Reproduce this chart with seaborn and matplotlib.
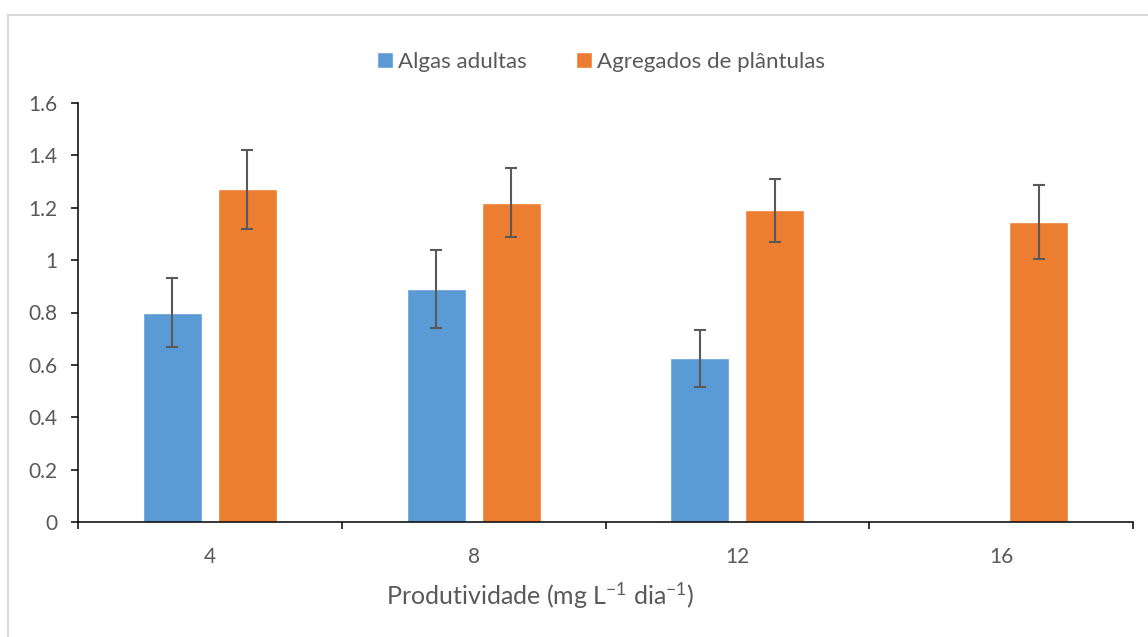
import pandas as pd
import matplotlib
matplotlib.use('Agg')
import matplotlib.pyplot as plt
from matplotlib.lines import Line2D
import seaborn as sns

# Dados
categorias = ['4', '8', '12', '16']
algas = [0.80, 0.89, 0.625]          # sem valor em 16
algas_erro = [0.13, 0.15, 0.11]
agregados = [1.27, 1.22, 1.19, 1.145]
agregados_erro = [0.15, 0.13, 0.12, 0.14]
series = ['Algas adultas', 'Agregados de plântulas']
cores = ['#5B9BD5', '#ED7D31']

df = pd.DataFrame({
    'Produtividade': categorias[:len(algas)] + categorias,
    'Valor': algas + agregados,
    'Serie': [series[0]] * len(algas) + [series[1]] * len(agregados),
})

sns.set_theme(style='white')
plt.rcParams['font.family'] = ['Lato', 'DejaVu Sans']
plt.rcParams['mathtext.fontset'] = 'custom'
plt.rcParams['mathtext.rm'] = 'Lato'
plt.rcParams['mathtext.it'] = 'Lato'
cinza = '#595959'

fig = plt.figure(figsize=(11.48, 6.37), dpi=100)
ax = fig.add_axes([78 / 1148, 1 - 522 / 637, 1055 / 1148, 419 / 637])

sns.barplot(data=df, x='Produtividade', y='Valor', hue='Serie', order=categorias,
            hue_order=series, palette=cores, width=0.568, gap=0.213,
            errorbar=None, saturation=1, ax=ax)

# barras de erro (ordem dos patches: algas, depois agregados)
barras = [p for p in ax.patches if p.get_height() > 0]
erros = algas_erro + agregados_erro
for p, e in zip(barras, erros):
    ax.errorbar(p.get_x() + p.get_width() / 2, p.get_height(), yerr=e,
                color=cinza, elinewidth=1.5, capsize=4.5, capthick=1.5, zorder=5)

ax.set_xlim(-0.5, 3.5)
ax.set_ylim(0, 1.6)
ax.set_yticks([0, 0.2, 0.4, 0.6, 0.8, 1.0, 1.2, 1.4, 1.6])
ax.set_yticklabels(['0', '0.2', '0.4', '0.6', '0.8', '1', '1.2', '1.4', '1.6'])
ax.set_xticks(range(len(categorias)))
ax.set_xticklabels(categorias)
ax.set_xticks([-0.5, 0.5, 1.5, 2.5, 3.5], minor=True)
ax.tick_params(axis='x', which='major', length=0, pad=18, labelsize=15, labelcolor=cinza)
ax.tick_params(axis='x', which='minor', length=5, width=1.1, color='black', direction='out', bottom=True)
ax.tick_params(axis='y', length=5, width=1.1, color='black', direction='out', left=True,
               pad=10, labelsize=15, labelcolor=cinza)

for s in ['top', 'right']:
    ax.spines[s].set_visible(False)
for s in ['left', 'bottom']:
    ax.spines[s].set_color('black')
    ax.spines[s].set_linewidth(1.1)

ax.set_ylabel('')
ax.set_xlabel('Produtividade (mg L$^{-1}$ dia$^{-1}$)', fontsize=18, color=cinza)
ax.xaxis.set_label_coords((540 - 78) / 1055, -0.14)
ax.xaxis.label.set_va('top')

sns.move_legend(ax, 'center', bbox_to_anchor=(0.496, 1.098), ncol=2, frameon=False,
                title=None, fontsize=16, handlelength=0.7, handleheight=0.7,
                handletextpad=0.25, columnspacing=2.2)
for t in ax.get_legend().get_texts():
    t.set_color(cinza)

# moldura clara do gráfico
fig.add_artist(Line2D([8 / 1148, 1], [1 - 15 / 637, 1 - 15 / 637], color='#d9d9d9', lw=1.5))
fig.add_artist(Line2D([8 / 1148, 8 / 1148], [0, 1 - 15 / 637], color='#d9d9d9', lw=1.5))

fig.savefig('out.png', dpi=100)
